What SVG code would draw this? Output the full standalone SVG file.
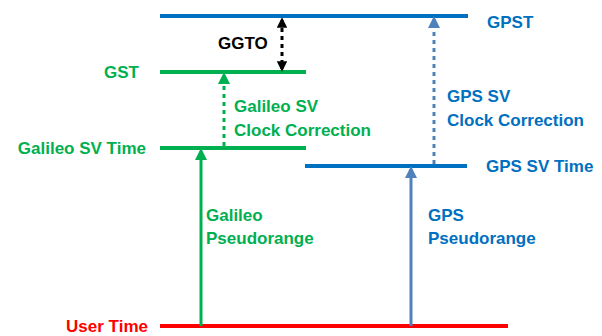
<svg xmlns="http://www.w3.org/2000/svg" width="602" height="336" viewBox="0 0 602 336">
<defs>
<style>
text{font-family:"Liberation Sans",Arial,sans-serif;font-weight:bold;font-size:17px}
.g{fill:#00B050}.b{fill:#0070C0}.r{fill:#FF0000}.k{fill:#000}
.lvl{stroke-width:4;fill:none}
.arr{stroke-width:3;fill:none}
.dot{stroke-dasharray:4 4}
</style>
<marker id="mg" markerWidth="4" markerHeight="4" refX="3" refY="2" orient="auto" markerUnits="strokeWidth" viewBox="0 0 4 4"><path d="M0,0L4,2L0,4z" fill="#00B050"/></marker>
<marker id="mb" markerWidth="4" markerHeight="4" refX="3" refY="2" orient="auto" markerUnits="strokeWidth" viewBox="0 0 4 4"><path d="M0,0L4,2L0,4z" fill="#4F81BD"/></marker>
<marker id="mk" markerWidth="3.5" markerHeight="3.5" refX="2.6" refY="1.75" orient="auto-start-reverse" markerUnits="strokeWidth" viewBox="0 0 3.5 3.5"><path d="M0,0L3.5,1.75L0,3.5z" fill="#000"/></marker>
</defs>
<g id="gpst"><line class="lvl" x1="160" y1="16" x2="468" y2="16" stroke="#0070C0"/><text class="b" x="487" y="28">GPST</text></g>
<g id="gst"><line class="lvl" x1="160" y1="72" x2="306" y2="72" stroke="#00B050"/><text class="g" x="139" y="78" text-anchor="end">GST</text></g>
<g id="galsv"><line class="lvl" x1="160" y1="148" x2="306" y2="148" stroke="#00B050"/><text class="g" x="146" y="154" text-anchor="end">Galileo SV Time</text></g>
<g id="gpssv"><line class="lvl" x1="305" y1="166" x2="467" y2="166" stroke="#0070C0"/><text class="b" x="486" y="172">GPS SV Time</text></g>
<g id="user"><line class="lvl" x1="160" y1="326" x2="508" y2="326" stroke="#FF0000"/><text class="r" x="148" y="332" text-anchor="end">User Time</text></g>
<g id="connectors">
<line class="arr" x1="201" y1="326" x2="201" y2="151" stroke="#00B050" marker-end="url(#mg)"/>
<line class="arr" x1="411" y1="326" x2="411" y2="169" stroke="#4F81BD" marker-end="url(#mb)"/>
<line class="arr dot" x1="224" y1="146" x2="224" y2="75" stroke="#00B050" marker-end="url(#mg)"/>
<line class="arr dot" x1="434" y1="164" x2="434" y2="19" stroke="#4F81BD" marker-end="url(#mb)"/>
<line class="arr dot" x1="282" y1="20" x2="282" y2="69" stroke="#000" stroke-width="4" marker-start="url(#mk)" marker-end="url(#mk)"/>
</g>
<g id="labels">
<text class="k" x="218" y="49">GGTO</text>
<text class="g" x="234" y="112">Galileo SV</text>
<text class="g" x="234" y="136">Clock Correction</text>
<text class="b" x="447" y="102">GPS SV</text>
<text class="b" x="447" y="126">Clock Correction</text>
<text class="g" x="206" y="221">Galileo</text>
<text class="g" x="206" y="244">Pseudorange</text>
<text class="b" x="428" y="221">GPS</text>
<text class="b" x="428" y="244">Pseudorange</text>
</g>
</svg>
